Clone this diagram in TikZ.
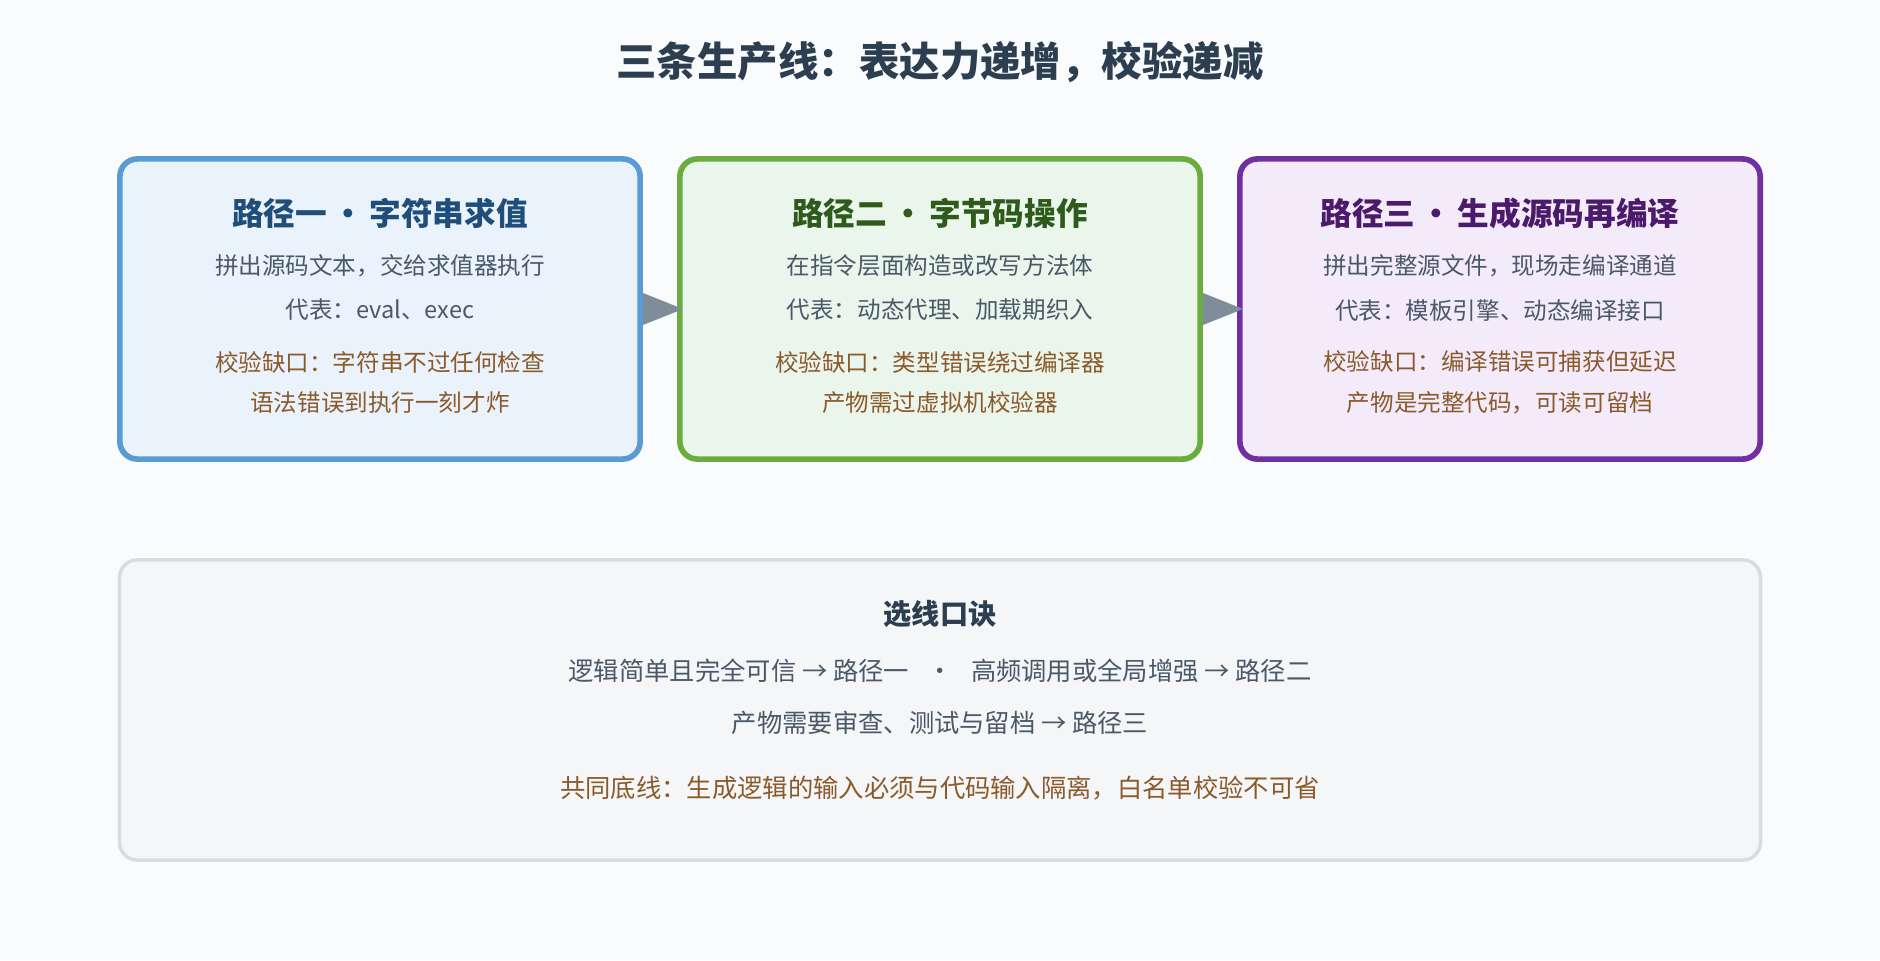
\documentclass[tikz,border=0pt]{standalone}
\usepackage{fontspec}
\setmainfont{Noto Sans CJK SC}
\usetikzlibrary{positioning}
\definecolor{bgcol}{HTML}{F9FBFD}
\definecolor{titlecol}{HTML}{2C3E50}
\definecolor{bodycol}{HTML}{4A5868}
\definecolor{warncol}{HTML}{8B5A2B}
\definecolor{arrcol}{HTML}{7F8C9A}
\definecolor{blueline}{HTML}{5B9BD5}\definecolor{bluefill}{HTML}{EAF2FB}\definecolor{bluetext}{HTML}{1F4E79}
\definecolor{greenline}{HTML}{6AAD3D}\definecolor{greenfill}{HTML}{EAF6EB}\definecolor{greentext}{HTML}{2E5A1C}
\definecolor{purpleline}{HTML}{7030A0}\definecolor{purplefill}{HTML}{F3EBFA}\definecolor{purpletext}{HTML}{4B1A6B}
\definecolor{greyline}{HTML}{D9DCDF}\definecolor{greyfill}{HTML}{F5F6F7}
\tikzset{
  path box/.style={rectangle, rounded corners=5pt, line width=1.6pt, minimum width=5.2cm, minimum height=3cm},
  box head/.style={font=\fontsize{9}{11}\selectfont\bfseries},
  box text/.style={font=\fontsize{6.7}{8}\selectfont, text=bodycol},
  warn text/.style={font=\fontsize{6.7}{8}\selectfont, text=warncol},
  flow/.style={fill=arrcol}
}
\begin{document}
\begin{tikzpicture}[x=0.01cm,y=-0.01cm]
\fill[bgcol] (0,0) rectangle (1880,960);
\node (title) at (940,62) [font=\fontsize{11.5}{13}\selectfont\bfseries, text=titlecol] {三条生产线：表达力递增，校验递减};

% three lanes
\node (one) at (380,309) [path box, draw=blueline, fill=bluefill] {};
\node (two) at (940,309) [path box, draw=greenline, fill=greenfill] {};
\node (three) at (1500,309) [path box, draw=purpleline, fill=purplefill] {};

\node (oneh) at (380,213) [box head, text=bluetext] {路径一\,•\,字符串求值};
\node at (380,266) [box text] {拼出源码文本，交给求值器执行};
\node at (380,310) [box text] {代表：eval、exec};
\node at (380,362) [warn text] {校验缺口：字符串不过任何检查};
\node at (380,403) [warn text] {语法错误到执行一刻才炸};

\node (twoh) at (940,213) [box head, text=greentext] {路径二\,•\,字节码操作};
\node at (940,266) [box text] {在指令层面构造或改写方法体};
\node at (940,310) [box text] {代表：动态代理、加载期织入};
\node at (940,362) [warn text] {校验缺口：类型错误绕过编译器};
\node at (940,403) [warn text] {产物需过虚拟机校验器};

\node (threeh) at (1500,213) [box head, text=purpletext] {路径三\,•\,生成源码再编译};
\node at (1500,266) [box text] {拼出完整源文件，现场走编译通道};
\node at (1500,310) [box text] {代表：模板引擎、动态编译接口};
\node at (1500,362) [warn text] {校验缺口：编译错误可捕获但延迟};
\node at (1500,403) [warn text] {产物是完整代码，可读可留档};

\fill[flow] (one.east) ++(0,-16) -- ++(40,16) -- ++(-40,16) -- cycle;
\fill[flow] (two.east) ++(0,-16) -- ++(40,16) -- ++(-40,16) -- cycle;

% rule of thumb
\node (rule) at (940,710) [rectangle, rounded corners=5pt, line width=1pt, draw=greyline, fill=greyfill, minimum width=16.4cm, minimum height=3cm] {};
\node (ruleh) at (940,614) [font=\fontsize{8}{10}\selectfont\bfseries, text=titlecol] {选线口诀};
\node at (940,671) [font=\fontsize{7.2}{9}\selectfont, text=bodycol] {逻辑简单且完全可信 → 路径一 \enspace · \enspace 高频调用或全局增强 → 路径二};
\node at (940,723) [font=\fontsize{7.2}{9}\selectfont, text=bodycol] {产物需要审查、测试与留档 → 路径三};
\node at (940,788) [font=\fontsize{7.2}{9}\selectfont, text=warncol] {共同底线：生成逻辑的输入必须与代码输入隔离，白名单校验不可省};
\end{tikzpicture}
\end{document}
